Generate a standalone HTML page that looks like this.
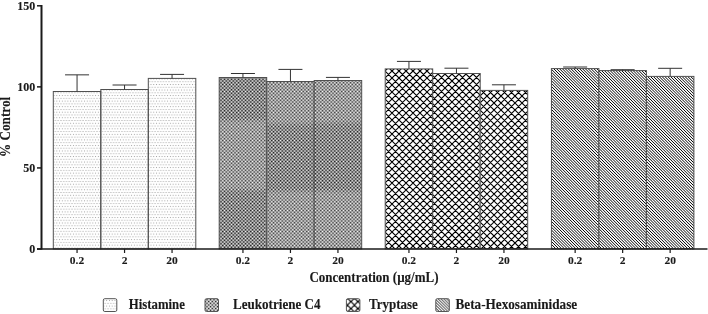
<!DOCTYPE html>
<html><head><meta charset="utf-8"><style>
html,body{margin:0;padding:0;background:#fff;width:708px;height:314px;overflow:hidden}
svg{display:block;will-change:transform}
text{font-family:"Liberation Serif",serif;font-weight:bold;fill:#1a1a1a;stroke:#1a1a1a;stroke-width:0.12px}
</style></head><body>
<svg width="708" height="314" viewBox="0 0 708 314">
<defs>
<pattern id="pH" patternUnits="userSpaceOnUse" x="0" y="0" width="2.77" height="5.54">
<rect x="0.9" y="0.9" width="1" height="1" fill="#a4a4a4"/>
<rect x="2.28" y="3.67" width="1" height="1" fill="#a4a4a4"/>
<rect x="-0.48" y="3.67" width="1" height="1" fill="#a4a4a4"/>
</pattern>
<pattern id="pB" patternUnits="userSpaceOnUse" x="0" y="0" width="2.9" height="2.9">
<path d="M-1,-1 L3.9,3.9 M-3.9,-1 L1,3.9 M1.9,-1 L6.8,3.9" stroke="#000" stroke-width="0.9" fill="none"/>
</pattern>

<pattern id="pLd" patternUnits="userSpaceOnUse" x="0" y="0" width="3.5" height="3.5">
<rect width="3.5" height="3.5" fill="rgb(142,142,142)"/>
<rect x="0" y="0" width="1" height="1" fill="#fff"/>
<rect x="1.75" y="1.75" width="1" height="1" fill="#fff"/>
<rect x="1.75" y="0" width="1" height="1" fill="#000"/>
<rect x="0" y="1.75" width="1" height="1" fill="#000"/>
</pattern>
<pattern id="pLl" patternUnits="userSpaceOnUse" x="0" y="0" width="3.5" height="3.5">
<rect width="3.5" height="3.5" fill="rgb(168,168,168)"/>
<rect x="0" y="0" width="1" height="1" fill="#fff"/>
<rect x="1.75" y="1.75" width="1" height="1" fill="#fff"/>
<rect x="1.75" y="0" width="1" height="1" fill="#000"/>
<rect x="0" y="1.75" width="1" height="1" fill="#000"/>
</pattern>
<pattern id="pLbox" patternUnits="userSpaceOnUse" x="0" y="0" width="3.5" height="3.5">
<rect width="3.5" height="3.5" fill="rgb(178,178,178)"/>
<rect x="0" y="0" width="1" height="1" fill="#fff"/>
<rect x="1.75" y="1.75" width="1" height="1" fill="#fff"/>
<rect x="1.75" y="0" width="1" height="1" fill="#000"/>
<rect x="0" y="1.75" width="1" height="1" fill="#000"/>
</pattern>
<pattern id="pT0" patternUnits="userSpaceOnUse" x="4.4" y="1.25" width="6.85" height="6.85">
<path d="M-1,-1 L7.85,7.85 M-1,5.85 L1,7.85 M5.85,-1 L7.85,1 M7.85,-1 L-1,7.85 M-1,1 L1,-1 M5.85,7.85 L7.85,5.85" stroke="#000" stroke-width="1.2" fill="none"/>
</pattern>
<pattern id="pT1" patternUnits="userSpaceOnUse" x="2.65" y="3.3" width="6.85" height="6.85">
<path d="M-1,-1 L7.85,7.85 M-1,5.85 L1,7.85 M5.85,-1 L7.85,1 M7.85,-1 L-1,7.85 M-1,1 L1,-1 M5.85,7.85 L7.85,5.85" stroke="#000" stroke-width="1.2" fill="none"/>
</pattern>
<pattern id="pT2" patternUnits="userSpaceOnUse" x="3.6" y="4.8" width="6.85" height="6.85">
<path d="M-1,-1 L7.85,7.85 M-1,5.85 L1,7.85 M5.85,-1 L7.85,1 M7.85,-1 L-1,7.85 M-1,1 L1,-1 M5.85,7.85 L7.85,5.85" stroke="#000" stroke-width="1.2" fill="none"/>
</pattern>
<pattern id="pTbox" patternUnits="userSpaceOnUse" x="0.9" y="0.6" width="7" height="7">
<path d="M-1,-1 L8,8 M-1,6 L1,8 M6,-1 L8,1 M8,-1 L-1,8 M-1,1 L1,-1 M6,8 L8,6" stroke="#000" stroke-width="1.2" fill="none"/>
</pattern>
</defs>
<rect x="53.30" y="91.50" width="47.50" height="157.40" fill="url(#pH)" stroke="#505050" stroke-width="1"/>
<rect x="100.80" y="89.50" width="47.50" height="159.40" fill="url(#pH)" stroke="#505050" stroke-width="1"/>
<rect x="148.30" y="78.40" width="47.50" height="170.50" fill="url(#pH)" stroke="#505050" stroke-width="1"/>
<rect x="219.20" y="77.50" width="47.50" height="171.40" fill="url(#pLd)"/>
<linearGradient id="lg0" gradientUnits="userSpaceOnUse" x1="0" y1="77.50" x2="0" y2="248.90"><stop offset="0.0000" stop-color="#fff" stop-opacity="0"/><stop offset="0.2334" stop-color="#fff" stop-opacity="0"/><stop offset="0.2625" stop-color="#fff" stop-opacity="0.155"/><stop offset="0.6418" stop-color="#fff" stop-opacity="0.155"/><stop offset="0.6709" stop-color="#fff" stop-opacity="0"/><stop offset="1.0000" stop-color="#fff" stop-opacity="0"/></linearGradient>
<rect x="219.20" y="77.50" width="47.50" height="171.40" fill="url(#lg0)"/>
<rect x="219.20" y="77.50" width="47.50" height="171.40" fill="none" stroke="#505050" stroke-width="1"/>
<rect x="266.70" y="81.50" width="47.50" height="167.40" fill="url(#pLd)"/>
<linearGradient id="lg1" gradientUnits="userSpaceOnUse" x1="0" y1="81.50" x2="0" y2="248.90"><stop offset="0.0000" stop-color="#fff" stop-opacity="0.155"/><stop offset="0.2389" stop-color="#fff" stop-opacity="0.155"/><stop offset="0.2688" stop-color="#fff" stop-opacity="0"/><stop offset="0.6392" stop-color="#fff" stop-opacity="0"/><stop offset="0.6691" stop-color="#fff" stop-opacity="0.155"/><stop offset="1.0000" stop-color="#fff" stop-opacity="0.155"/></linearGradient>
<rect x="266.70" y="81.50" width="47.50" height="167.40" fill="url(#lg1)"/>
<rect x="266.70" y="81.50" width="47.50" height="167.40" fill="none" stroke="#505050" stroke-width="1"/>
<rect x="314.20" y="80.50" width="47.50" height="168.40" fill="url(#pLd)"/>
<linearGradient id="lg2" gradientUnits="userSpaceOnUse" x1="0" y1="80.50" x2="0" y2="248.90"><stop offset="0.0000" stop-color="#fff" stop-opacity="0.155"/><stop offset="0.2375" stop-color="#fff" stop-opacity="0.155"/><stop offset="0.2672" stop-color="#fff" stop-opacity="0"/><stop offset="0.6413" stop-color="#fff" stop-opacity="0"/><stop offset="0.6710" stop-color="#fff" stop-opacity="0.155"/><stop offset="1.0000" stop-color="#fff" stop-opacity="0.155"/></linearGradient>
<rect x="314.20" y="80.50" width="47.50" height="168.40" fill="url(#lg2)"/>
<rect x="314.20" y="80.50" width="47.50" height="168.40" fill="none" stroke="#505050" stroke-width="1"/>
<clipPath id="c20"><rect x="385.20" y="68.90" width="47.50" height="180.00"/></clipPath>
<rect x="385.20" y="68.90" width="47.50" height="180.00" fill="#fff"/>
<path clip-path="url(#c20)" d="M184.90,66.90L368.90,250.90M191.90,66.90L375.90,250.90M198.90,66.90L382.90,250.90M205.90,66.90L389.90,250.90M212.90,66.90L396.90,250.90M219.90,66.90L403.90,250.90M226.90,66.90L410.90,250.90M233.90,66.90L417.90,250.90M240.90,66.90L424.90,250.90M247.90,66.90L431.90,250.90M254.90,66.90L438.90,250.90M261.90,66.90L445.90,250.90M268.90,66.90L452.90,250.90M275.90,66.90L459.90,250.90M282.90,66.90L466.90,250.90M289.90,66.90L473.90,250.90M296.90,66.90L480.90,250.90M303.90,66.90L487.90,250.90M310.90,66.90L494.90,250.90M317.90,66.90L501.90,250.90M324.90,66.90L508.90,250.90M331.90,66.90L515.90,250.90M338.90,66.90L522.90,250.90M345.90,66.90L529.90,250.90M352.90,66.90L536.90,250.90M359.90,66.90L543.90,250.90M366.90,66.90L550.90,250.90M373.90,66.90L557.90,250.90M380.90,66.90L564.90,250.90M387.90,66.90L571.90,250.90M394.90,66.90L578.90,250.90M401.90,66.90L585.90,250.90M408.90,66.90L592.90,250.90M415.90,66.90L599.90,250.90M422.90,66.90L606.90,250.90M429.90,66.90L613.90,250.90M436.90,66.90L620.90,250.90M443.90,66.90L627.90,250.90M368.10,66.90L184.10,250.90M375.10,66.90L191.10,250.90M382.10,66.90L198.10,250.90M389.10,66.90L205.10,250.90M396.10,66.90L212.10,250.90M403.10,66.90L219.10,250.90M410.10,66.90L226.10,250.90M417.10,66.90L233.10,250.90M424.10,66.90L240.10,250.90M431.10,66.90L247.10,250.90M438.10,66.90L254.10,250.90M445.10,66.90L261.10,250.90M452.10,66.90L268.10,250.90M459.10,66.90L275.10,250.90M466.10,66.90L282.10,250.90M473.10,66.90L289.10,250.90M480.10,66.90L296.10,250.90M487.10,66.90L303.10,250.90M494.10,66.90L310.10,250.90M501.10,66.90L317.10,250.90M508.10,66.90L324.10,250.90M515.10,66.90L331.10,250.90M522.10,66.90L338.10,250.90M529.10,66.90L345.10,250.90M536.10,66.90L352.10,250.90M543.10,66.90L359.10,250.90M550.10,66.90L366.10,250.90M557.10,66.90L373.10,250.90M564.10,66.90L380.10,250.90M571.10,66.90L387.10,250.90M578.10,66.90L394.10,250.90M585.10,66.90L401.10,250.90M592.10,66.90L408.10,250.90M599.10,66.90L415.10,250.90M606.10,66.90L422.10,250.90M613.10,66.90L429.10,250.90M620.10,66.90L436.10,250.90M627.10,66.90L443.10,250.90" stroke="#000" stroke-width="1.2" fill="none"/>
<rect x="385.20" y="68.90" width="47.50" height="180.00" fill="none" stroke="#505050" stroke-width="1"/>
<clipPath id="c21"><rect x="432.70" y="73.50" width="47.50" height="175.40"/></clipPath>
<rect x="432.70" y="73.50" width="47.50" height="175.40" fill="#fff"/>
<path clip-path="url(#c21)" d="M239.50,71.50L418.90,250.90M246.50,71.50L425.90,250.90M253.50,71.50L432.90,250.90M260.50,71.50L439.90,250.90M267.50,71.50L446.90,250.90M274.50,71.50L453.90,250.90M281.50,71.50L460.90,250.90M288.50,71.50L467.90,250.90M295.50,71.50L474.90,250.90M302.50,71.50L481.90,250.90M309.50,71.50L488.90,250.90M316.50,71.50L495.90,250.90M323.50,71.50L502.90,250.90M330.50,71.50L509.90,250.90M337.50,71.50L516.90,250.90M344.50,71.50L523.90,250.90M351.50,71.50L530.90,250.90M358.50,71.50L537.90,250.90M365.50,71.50L544.90,250.90M372.50,71.50L551.90,250.90M379.50,71.50L558.90,250.90M386.50,71.50L565.90,250.90M393.50,71.50L572.90,250.90M400.50,71.50L579.90,250.90M407.50,71.50L586.90,250.90M414.50,71.50L593.90,250.90M421.50,71.50L600.90,250.90M428.50,71.50L607.90,250.90M435.50,71.50L614.90,250.90M442.50,71.50L621.90,250.90M449.50,71.50L628.90,250.90M456.50,71.50L635.90,250.90M463.50,71.50L642.90,250.90M470.50,71.50L649.90,250.90M477.50,71.50L656.90,250.90M484.50,71.50L663.90,250.90M491.50,71.50L670.90,250.90M419.50,71.50L240.10,250.90M426.50,71.50L247.10,250.90M433.50,71.50L254.10,250.90M440.50,71.50L261.10,250.90M447.50,71.50L268.10,250.90M454.50,71.50L275.10,250.90M461.50,71.50L282.10,250.90M468.50,71.50L289.10,250.90M475.50,71.50L296.10,250.90M482.50,71.50L303.10,250.90M489.50,71.50L310.10,250.90M496.50,71.50L317.10,250.90M503.50,71.50L324.10,250.90M510.50,71.50L331.10,250.90M517.50,71.50L338.10,250.90M524.50,71.50L345.10,250.90M531.50,71.50L352.10,250.90M538.50,71.50L359.10,250.90M545.50,71.50L366.10,250.90M552.50,71.50L373.10,250.90M559.50,71.50L380.10,250.90M566.50,71.50L387.10,250.90M573.50,71.50L394.10,250.90M580.50,71.50L401.10,250.90M587.50,71.50L408.10,250.90M594.50,71.50L415.10,250.90M601.50,71.50L422.10,250.90M608.50,71.50L429.10,250.90M615.50,71.50L436.10,250.90M622.50,71.50L443.10,250.90M629.50,71.50L450.10,250.90M636.50,71.50L457.10,250.90M643.50,71.50L464.10,250.90M650.50,71.50L471.10,250.90M657.50,71.50L478.10,250.90M664.50,71.50L485.10,250.90M671.50,71.50L492.10,250.90" stroke="#000" stroke-width="1.2" fill="none"/>
<rect x="432.70" y="73.50" width="47.50" height="175.40" fill="none" stroke="#505050" stroke-width="1"/>
<clipPath id="c22"><rect x="480.20" y="90.40" width="47.50" height="158.50"/></clipPath>
<rect x="480.20" y="90.40" width="47.50" height="158.50" fill="#fff"/>
<path clip-path="url(#c22)" d="M304.40,88.40L466.90,250.90M311.40,88.40L473.90,250.90M318.40,88.40L480.90,250.90M325.40,88.40L487.90,250.90M332.40,88.40L494.90,250.90M339.40,88.40L501.90,250.90M346.40,88.40L508.90,250.90M353.40,88.40L515.90,250.90M360.40,88.40L522.90,250.90M367.40,88.40L529.90,250.90M374.40,88.40L536.90,250.90M381.40,88.40L543.90,250.90M388.40,88.40L550.90,250.90M395.40,88.40L557.90,250.90M402.40,88.40L564.90,250.90M409.40,88.40L571.90,250.90M416.40,88.40L578.90,250.90M423.40,88.40L585.90,250.90M430.40,88.40L592.90,250.90M437.40,88.40L599.90,250.90M444.40,88.40L606.90,250.90M451.40,88.40L613.90,250.90M458.40,88.40L620.90,250.90M465.40,88.40L627.90,250.90M472.40,88.40L634.90,250.90M479.40,88.40L641.90,250.90M486.40,88.40L648.90,250.90M493.40,88.40L655.90,250.90M500.40,88.40L662.90,250.90M507.40,88.40L669.90,250.90M514.40,88.40L676.90,250.90M521.40,88.40L683.90,250.90M528.40,88.40L690.90,250.90M535.40,88.40L697.90,250.90M466.60,88.40L304.10,250.90M473.60,88.40L311.10,250.90M480.60,88.40L318.10,250.90M487.60,88.40L325.10,250.90M494.60,88.40L332.10,250.90M501.60,88.40L339.10,250.90M508.60,88.40L346.10,250.90M515.60,88.40L353.10,250.90M522.60,88.40L360.10,250.90M529.60,88.40L367.10,250.90M536.60,88.40L374.10,250.90M543.60,88.40L381.10,250.90M550.60,88.40L388.10,250.90M557.60,88.40L395.10,250.90M564.60,88.40L402.10,250.90M571.60,88.40L409.10,250.90M578.60,88.40L416.10,250.90M585.60,88.40L423.10,250.90M592.60,88.40L430.10,250.90M599.60,88.40L437.10,250.90M606.60,88.40L444.10,250.90M613.60,88.40L451.10,250.90M620.60,88.40L458.10,250.90M627.60,88.40L465.10,250.90M634.60,88.40L472.10,250.90M641.60,88.40L479.10,250.90M648.60,88.40L486.10,250.90M655.60,88.40L493.10,250.90M662.60,88.40L500.10,250.90M669.60,88.40L507.10,250.90M676.60,88.40L514.10,250.90M683.60,88.40L521.10,250.90M690.60,88.40L528.10,250.90M697.60,88.40L535.10,250.90" stroke="#000" stroke-width="1.2" fill="none"/>
<rect x="480.20" y="90.40" width="47.50" height="158.50" fill="none" stroke="#505050" stroke-width="1"/>
<clipPath id="c30"><rect x="551.40" y="68.60" width="47.50" height="180.30"/></clipPath>
<rect x="551.40" y="68.60" width="47.50" height="180.30" fill="#fff"/>
<path clip-path="url(#c30)" d="M362.21,66.60L546.51,250.90M365.08,66.60L549.38,250.90M367.95,66.60L552.25,250.90M370.82,66.60L555.12,250.90M373.69,66.60L557.99,250.90M376.56,66.60L560.86,250.90M379.43,66.60L563.73,250.90M382.30,66.60L566.60,250.90M385.17,66.60L569.47,250.90M388.04,66.60L572.34,250.90M390.91,66.60L575.21,250.90M393.78,66.60L578.08,250.90M396.65,66.60L580.95,250.90M399.52,66.60L583.82,250.90M402.39,66.60L586.69,250.90M405.26,66.60L589.56,250.90M408.13,66.60L592.43,250.90M411.00,66.60L595.30,250.90M413.87,66.60L598.17,250.90M416.74,66.60L601.04,250.90M419.61,66.60L603.91,250.90M422.48,66.60L606.78,250.90M425.35,66.60L609.65,250.90M428.22,66.60L612.52,250.90M431.09,66.60L615.39,250.90M433.96,66.60L618.26,250.90M436.83,66.60L621.13,250.90M439.70,66.60L624.00,250.90M442.57,66.60L626.87,250.90M445.44,66.60L629.74,250.90M448.31,66.60L632.61,250.90M451.18,66.60L635.48,250.90M454.05,66.60L638.35,250.90M456.92,66.60L641.22,250.90M459.79,66.60L644.09,250.90M462.66,66.60L646.96,250.90M465.53,66.60L649.83,250.90M468.40,66.60L652.70,250.90M471.27,66.60L655.57,250.90M474.14,66.60L658.44,250.90M477.01,66.60L661.31,250.90M479.88,66.60L664.18,250.90M482.75,66.60L667.05,250.90M485.62,66.60L669.92,250.90M488.49,66.60L672.79,250.90M491.36,66.60L675.66,250.90M494.23,66.60L678.53,250.90M497.10,66.60L681.40,250.90M499.97,66.60L684.27,250.90M502.84,66.60L687.14,250.90M505.71,66.60L690.01,250.90M508.58,66.60L692.88,250.90M511.45,66.60L695.75,250.90M514.32,66.60L698.62,250.90M517.19,66.60L701.49,250.90M520.06,66.60L704.36,250.90M522.93,66.60L707.23,250.90M525.80,66.60L710.10,250.90M528.67,66.60L712.97,250.90M531.54,66.60L715.84,250.90M534.41,66.60L718.71,250.90M537.28,66.60L721.58,250.90M540.15,66.60L724.45,250.90M543.02,66.60L727.32,250.90M545.89,66.60L730.19,250.90M548.76,66.60L733.06,250.90M551.63,66.60L735.93,250.90M554.50,66.60L738.80,250.90M557.37,66.60L741.67,250.90M560.24,66.60L744.54,250.90M563.11,66.60L747.41,250.90M565.98,66.60L750.28,250.90M568.85,66.60L753.15,250.90M571.72,66.60L756.02,250.90M574.59,66.60L758.89,250.90M577.46,66.60L761.76,250.90M580.33,66.60L764.63,250.90M583.20,66.60L767.50,250.90M586.07,66.60L770.37,250.90M588.94,66.60L773.24,250.90M591.81,66.60L776.11,250.90M594.68,66.60L778.98,250.90M597.55,66.60L781.85,250.90M600.42,66.60L784.72,250.90" stroke="#000" stroke-width="1.0" fill="none"/>
<rect x="551.40" y="68.60" width="47.50" height="180.30" fill="none" stroke="#505050" stroke-width="1"/>
<clipPath id="c31"><rect x="598.90" y="70.60" width="47.50" height="178.30"/></clipPath>
<rect x="598.90" y="70.60" width="47.50" height="178.30" fill="#fff"/>
<path clip-path="url(#c31)" d="M410.13,68.60L592.43,250.90M413.00,68.60L595.30,250.90M415.87,68.60L598.17,250.90M418.74,68.60L601.04,250.90M421.61,68.60L603.91,250.90M424.48,68.60L606.78,250.90M427.35,68.60L609.65,250.90M430.22,68.60L612.52,250.90M433.09,68.60L615.39,250.90M435.96,68.60L618.26,250.90M438.83,68.60L621.13,250.90M441.70,68.60L624.00,250.90M444.57,68.60L626.87,250.90M447.44,68.60L629.74,250.90M450.31,68.60L632.61,250.90M453.18,68.60L635.48,250.90M456.05,68.60L638.35,250.90M458.92,68.60L641.22,250.90M461.79,68.60L644.09,250.90M464.66,68.60L646.96,250.90M467.53,68.60L649.83,250.90M470.40,68.60L652.70,250.90M473.27,68.60L655.57,250.90M476.14,68.60L658.44,250.90M479.01,68.60L661.31,250.90M481.88,68.60L664.18,250.90M484.75,68.60L667.05,250.90M487.62,68.60L669.92,250.90M490.49,68.60L672.79,250.90M493.36,68.60L675.66,250.90M496.23,68.60L678.53,250.90M499.10,68.60L681.40,250.90M501.97,68.60L684.27,250.90M504.84,68.60L687.14,250.90M507.71,68.60L690.01,250.90M510.58,68.60L692.88,250.90M513.45,68.60L695.75,250.90M516.32,68.60L698.62,250.90M519.19,68.60L701.49,250.90M522.06,68.60L704.36,250.90M524.93,68.60L707.23,250.90M527.80,68.60L710.10,250.90M530.67,68.60L712.97,250.90M533.54,68.60L715.84,250.90M536.41,68.60L718.71,250.90M539.28,68.60L721.58,250.90M542.15,68.60L724.45,250.90M545.02,68.60L727.32,250.90M547.89,68.60L730.19,250.90M550.76,68.60L733.06,250.90M553.63,68.60L735.93,250.90M556.50,68.60L738.80,250.90M559.37,68.60L741.67,250.90M562.24,68.60L744.54,250.90M565.11,68.60L747.41,250.90M567.98,68.60L750.28,250.90M570.85,68.60L753.15,250.90M573.72,68.60L756.02,250.90M576.59,68.60L758.89,250.90M579.46,68.60L761.76,250.90M582.33,68.60L764.63,250.90M585.20,68.60L767.50,250.90M588.07,68.60L770.37,250.90M590.94,68.60L773.24,250.90M593.81,68.60L776.11,250.90M596.68,68.60L778.98,250.90M599.55,68.60L781.85,250.90M602.42,68.60L784.72,250.90M605.29,68.60L787.59,250.90M608.16,68.60L790.46,250.90M611.03,68.60L793.33,250.90M613.90,68.60L796.20,250.90M616.77,68.60L799.07,250.90M619.64,68.60L801.94,250.90M622.51,68.60L804.81,250.90M625.38,68.60L807.68,250.90M628.25,68.60L810.55,250.90M631.12,68.60L813.42,250.90M633.99,68.60L816.29,250.90M636.86,68.60L819.16,250.90M639.73,68.60L822.03,250.90M642.60,68.60L824.90,250.90M645.47,68.60L827.77,250.90M648.34,68.60L830.64,250.90" stroke="#000" stroke-width="1.0" fill="none"/>
<rect x="598.90" y="70.60" width="47.50" height="178.30" fill="none" stroke="#505050" stroke-width="1"/>
<clipPath id="c32"><rect x="646.40" y="76.40" width="47.50" height="172.50"/></clipPath>
<rect x="646.40" y="76.40" width="47.50" height="172.50" fill="#fff"/>
<path clip-path="url(#c32)" d="M464.72,74.40L641.22,250.90M467.59,74.40L644.09,250.90M470.46,74.40L646.96,250.90M473.33,74.40L649.83,250.90M476.20,74.40L652.70,250.90M479.07,74.40L655.57,250.90M481.94,74.40L658.44,250.90M484.81,74.40L661.31,250.90M487.68,74.40L664.18,250.90M490.55,74.40L667.05,250.90M493.42,74.40L669.92,250.90M496.29,74.40L672.79,250.90M499.16,74.40L675.66,250.90M502.03,74.40L678.53,250.90M504.90,74.40L681.40,250.90M507.77,74.40L684.27,250.90M510.64,74.40L687.14,250.90M513.51,74.40L690.01,250.90M516.38,74.40L692.88,250.90M519.25,74.40L695.75,250.90M522.12,74.40L698.62,250.90M524.99,74.40L701.49,250.90M527.86,74.40L704.36,250.90M530.73,74.40L707.23,250.90M533.60,74.40L710.10,250.90M536.47,74.40L712.97,250.90M539.34,74.40L715.84,250.90M542.21,74.40L718.71,250.90M545.08,74.40L721.58,250.90M547.95,74.40L724.45,250.90M550.82,74.40L727.32,250.90M553.69,74.40L730.19,250.90M556.56,74.40L733.06,250.90M559.43,74.40L735.93,250.90M562.30,74.40L738.80,250.90M565.17,74.40L741.67,250.90M568.04,74.40L744.54,250.90M570.91,74.40L747.41,250.90M573.78,74.40L750.28,250.90M576.65,74.40L753.15,250.90M579.52,74.40L756.02,250.90M582.39,74.40L758.89,250.90M585.26,74.40L761.76,250.90M588.13,74.40L764.63,250.90M591.00,74.40L767.50,250.90M593.87,74.40L770.37,250.90M596.74,74.40L773.24,250.90M599.61,74.40L776.11,250.90M602.48,74.40L778.98,250.90M605.35,74.40L781.85,250.90M608.22,74.40L784.72,250.90M611.09,74.40L787.59,250.90M613.96,74.40L790.46,250.90M616.83,74.40L793.33,250.90M619.70,74.40L796.20,250.90M622.57,74.40L799.07,250.90M625.44,74.40L801.94,250.90M628.31,74.40L804.81,250.90M631.18,74.40L807.68,250.90M634.05,74.40L810.55,250.90M636.92,74.40L813.42,250.90M639.79,74.40L816.29,250.90M642.66,74.40L819.16,250.90M645.53,74.40L822.03,250.90M648.40,74.40L824.90,250.90M651.27,74.40L827.77,250.90M654.14,74.40L830.64,250.90M657.01,74.40L833.51,250.90M659.88,74.40L836.38,250.90M662.75,74.40L839.25,250.90M665.62,74.40L842.12,250.90M668.49,74.40L844.99,250.90M671.36,74.40L847.86,250.90M674.23,74.40L850.73,250.90M677.10,74.40L853.60,250.90M679.97,74.40L856.47,250.90M682.84,74.40L859.34,250.90M685.71,74.40L862.21,250.90M688.58,74.40L865.08,250.90M691.45,74.40L867.95,250.90M694.32,74.40L870.82,250.90M697.19,74.40L873.69,250.90" stroke="#000" stroke-width="1.0" fill="none"/>
<rect x="646.40" y="76.40" width="47.50" height="172.50" fill="none" stroke="#505050" stroke-width="1"/>
<path d="M77.05,91.50 V74.85 M65.05,74.85 H89.05" stroke="#333" stroke-width="1" fill="none"/>
<path d="M124.55,89.50 V85.00 M112.55,85.00 H136.55" stroke="#333" stroke-width="1" fill="none"/>
<path d="M172.05,78.40 V74.40 M160.05,74.40 H184.05" stroke="#333" stroke-width="1" fill="none"/>
<path d="M242.95,77.50 V73.50 M230.95,73.50 H254.95" stroke="#333" stroke-width="1" fill="none"/>
<path d="M290.45,81.50 V69.40 M278.45,69.40 H302.45" stroke="#333" stroke-width="1" fill="none"/>
<path d="M337.95,80.50 V77.40 M325.95,77.40 H349.95" stroke="#333" stroke-width="1" fill="none"/>
<path d="M408.95,68.90 V61.40 M396.95,61.40 H420.95" stroke="#333" stroke-width="1" fill="none"/>
<path d="M456.45,73.50 V68.20 M444.45,68.20 H468.45" stroke="#333" stroke-width="1" fill="none"/>
<path d="M503.95,90.40 V84.80 M491.95,84.80 H515.95" stroke="#333" stroke-width="1" fill="none"/>
<path d="M575.15,68.60 V67.00 M563.15,67.00 H587.15" stroke="#333" stroke-width="1" fill="none"/>
<path d="M622.65,70.60 V69.70 M610.65,69.70 H634.65" stroke="#333" stroke-width="1" fill="none"/>
<path d="M670.15,76.40 V68.30 M658.15,68.30 H682.15" stroke="#333" stroke-width="1" fill="none"/>
<path d="M41.5,5.0 V249.5" stroke="#1a1a1a" stroke-width="2" fill="none"/>
<path d="M37.0,249.0 H707.5" stroke="#1a1a1a" stroke-width="1.5" fill="none"/>
<path d="M37.0,5.80 H41.5" stroke="#1a1a1a" stroke-width="1.5"/>
<text x="35.3" y="9.70" font-size="12" text-anchor="end" style="stroke-width:0.12px">150</text>
<path d="M37.0,86.87 H41.5" stroke="#1a1a1a" stroke-width="1.5"/>
<text x="35.3" y="90.77" font-size="12" text-anchor="end" style="stroke-width:0.12px">100</text>
<path d="M37.0,167.93 H41.5" stroke="#1a1a1a" stroke-width="1.5"/>
<text x="35.3" y="171.83" font-size="12" text-anchor="end" style="stroke-width:0.12px">50</text>
<path d="M37.0,249.00 H41.5" stroke="#1a1a1a" stroke-width="1.5"/>
<text x="35.3" y="252.90" font-size="12" text-anchor="end" style="stroke-width:0.12px">0</text>
<path d="M77.05,249 V253.0" stroke="#1a1a1a" stroke-width="1.2"/>
<text transform="translate(0,264.1) scale(1,0.95)" x="77.05" y="0" font-size="11.5" text-anchor="middle" style="stroke-width:0.12px">0.2</text>
<path d="M124.55,249 V253.0" stroke="#1a1a1a" stroke-width="1.2"/>
<text transform="translate(0,264.1) scale(1,0.95)" x="124.55" y="0" font-size="11.5" text-anchor="middle" style="stroke-width:0.12px">2</text>
<path d="M172.05,249 V253.0" stroke="#1a1a1a" stroke-width="1.2"/>
<text transform="translate(0,264.1) scale(1,0.95)" x="172.05" y="0" font-size="11.5" text-anchor="middle" style="stroke-width:0.12px">20</text>
<path d="M242.95,249 V253.0" stroke="#1a1a1a" stroke-width="1.2"/>
<text transform="translate(0,264.1) scale(1,0.95)" x="242.95" y="0" font-size="11.5" text-anchor="middle" style="stroke-width:0.12px">0.2</text>
<path d="M290.45,249 V253.0" stroke="#1a1a1a" stroke-width="1.2"/>
<text transform="translate(0,264.1) scale(1,0.95)" x="290.45" y="0" font-size="11.5" text-anchor="middle" style="stroke-width:0.12px">2</text>
<path d="M337.95,249 V253.0" stroke="#1a1a1a" stroke-width="1.2"/>
<text transform="translate(0,264.1) scale(1,0.95)" x="337.95" y="0" font-size="11.5" text-anchor="middle" style="stroke-width:0.12px">20</text>
<path d="M408.95,249 V253.0" stroke="#1a1a1a" stroke-width="1.2"/>
<text transform="translate(0,264.1) scale(1,0.95)" x="408.95" y="0" font-size="11.5" text-anchor="middle" style="stroke-width:0.12px">0.2</text>
<path d="M456.45,249 V253.0" stroke="#1a1a1a" stroke-width="1.2"/>
<text transform="translate(0,264.1) scale(1,0.95)" x="456.45" y="0" font-size="11.5" text-anchor="middle" style="stroke-width:0.12px">2</text>
<path d="M503.95,249 V253.0" stroke="#1a1a1a" stroke-width="1.2"/>
<text transform="translate(0,264.1) scale(1,0.95)" x="503.95" y="0" font-size="11.5" text-anchor="middle" style="stroke-width:0.12px">20</text>
<path d="M575.15,249 V253.0" stroke="#1a1a1a" stroke-width="1.2"/>
<text transform="translate(0,264.1) scale(1,0.95)" x="575.15" y="0" font-size="11.5" text-anchor="middle" style="stroke-width:0.12px">0.2</text>
<path d="M622.65,249 V253.0" stroke="#1a1a1a" stroke-width="1.2"/>
<text transform="translate(0,264.1) scale(1,0.95)" x="622.65" y="0" font-size="11.5" text-anchor="middle" style="stroke-width:0.12px">2</text>
<path d="M670.15,249 V253.0" stroke="#1a1a1a" stroke-width="1.2"/>
<text transform="translate(0,264.1) scale(1,0.95)" x="670.15" y="0" font-size="11.5" text-anchor="middle" style="stroke-width:0.12px">20</text>
<text transform="translate(0,281.7) scale(1,1.18)" x="374" y="0" font-size="13" text-anchor="middle">Concentration (µg/mL)</text>
<text transform="translate(10.2,126.9) rotate(-90) scale(1,1.12)" x="0" y="0" font-size="13.15" text-anchor="middle">% Control</text>
<rect x="103.30" y="298.7" width="13.5" height="12.8" rx="1.5" fill="url(#pH)" stroke="#555" stroke-width="1"/>
<text transform="translate(0,308.8) scale(1,1.06)" x="128.8" y="0" font-size="12.8">Histamine</text>
<rect x="205.00" y="298.7" width="13.5" height="12.8" rx="1.5" fill="url(#pLbox)" stroke="#555" stroke-width="1"/>
<text transform="translate(0,308.8) scale(1,1.06)" x="233" y="0" font-size="13.1">Leukotriene C4</text>
<rect x="346.40" y="298.7" width="13.5" height="12.8" rx="1.5" fill="url(#pTbox)" stroke="#555" stroke-width="1"/>
<text transform="translate(0,308.8) scale(1,1.06)" x="369" y="0" font-size="13">Tryptase</text>
<rect x="435.80" y="298.7" width="13.5" height="12.8" rx="1.5" fill="url(#pB)" stroke="#555" stroke-width="1"/>
<text transform="translate(0,308.8) scale(1,1.06)" x="455.5" y="0" font-size="13.2">Beta-Hexosaminidase</text>
</svg></body></html>
